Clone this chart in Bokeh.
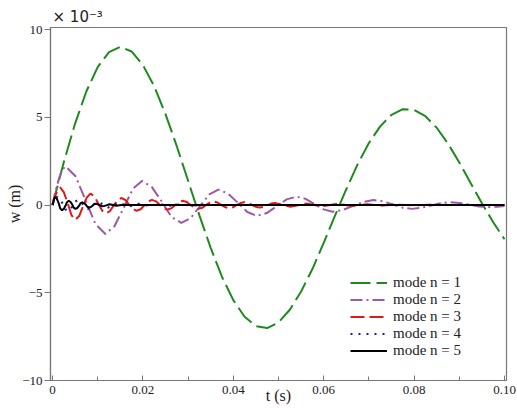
from bokeh.plotting import figure
from bokeh.models import Range1d, FixedTicker, Legend, LegendItem
from bokeh.embed import file_html
from bokeh.resources import INLINE

# ---- data (w in units of 1e-3 m) ----
t1 = [0, 0.0025, 0.005, 0.0075, 0.01, 0.0125, 0.015, 0.0175, 0.02, 0.0225,
      0.025, 0.0275, 0.03, 0.0325, 0.035, 0.0375, 0.04, 0.0425, 0.045, 0.0475,
      0.05, 0.0525, 0.055, 0.0575, 0.06, 0.0625, 0.065, 0.0675, 0.07, 0.0725,
      0.075, 0.0775, 0.08, 0.0825, 0.085, 0.0875, 0.09, 0.0925, 0.095, 0.0975, 0.1]
w1 = [0, 2.44, 4.64, 6.48, 7.86, 8.71, 9.01, 8.75, 7.98, 6.76,
      5.18, 3.35, 1.38, -0.59, -2.44, -4.10, -5.42, -6.37, -6.90, -7.01,
      -6.69, -5.97, -4.93, -3.65, -2.16, -0.61, 0.90, 2.32, 3.53, 4.48,
      5.14, 5.46, 5.42, 5.06, 4.40, 3.50, 2.42, 1.25, 0.10, -0.98, -1.95]

t2 = [0, 0.0007, 0.0015, 0.0022, 0.0029, 0.0051, 0.0073, 0.0095, 0.0117, 0.0137,
      0.0158, 0.0178, 0.0198, 0.0220, 0.0242, 0.0263, 0.0285, 0.0306, 0.0326, 0.0347,
      0.0367, 0.0388, 0.0410, 0.0431, 0.0452, 0.0474, 0.0496, 0.0518, 0.0540, 0.0560,
      0.0580, 0.0600, 0.0620, 0.0643, 0.0665, 0.0688, 0.0710, 0.0731, 0.0753, 0.0774,
      0.0795, 0.0816, 0.0838, 0.0859, 0.0880, 0.0901, 0.0923, 0.0944, 0.0965, 0.0983, 0.1]
w2 = [0, 0.84, 1.56, 2.03, 2.20, 1.64, 0.28, -1.09, -1.65, -1.21,
      -0.14, 0.93, 1.37, 1.02, 0.18, -0.67, -1.02, -0.74, -0.07, 0.60,
      0.88, 0.66, 0.13, -0.40, -0.62, -0.46, -0.07, 0.32, 0.48, 0.35,
      0.05, -0.25, -0.38, -0.28, -0.05, 0.18, 0.28, 0.21, 0.03, -0.15,
      -0.22, -0.16, -0.03, 0.10, 0.16, 0.12, 0.02, -0.08, -0.12, -0.10, -0.05]

t3 = [0, 0.0004, 0.0009, 0.0013, 0.0017, 0.0025, 0.0034, 0.0042, 0.0050, 0.0059,
      0.0067, 0.0076, 0.0084, 0.0093, 0.0101, 0.0110, 0.0118, 0.0127, 0.0135, 0.0144,
      0.0152, 0.0161, 0.0169, 0.0178, 0.0186, 0.0195, 0.0203, 0.0212, 0.0220, 0.0229,
      0.0237, 0.0246, 0.0254, 0.0263, 0.0271, 0.0280, 0.0288, 0.0297, 0.0305, 0.0314,
      0.0322, 0.0331, 0.0339, 0.0348, 0.0356, 0.0365, 0.0373, 0.0382, 0.0390, 0.0399,
      0.0407, 0.0416, 0.0424, 0.0433, 0.0441, 0.0450, 0.0458, 0.0467, 0.0475, 0.0484,
      0.0492, 0.0509, 0.0526, 0.0543, 0.0560, 0.0577, 0.0594, 0.0611, 0.0628, 0.0645,
      0.0662, 0.0679, 0.0696, 0.0713, 0.0730, 0.0747, 0.0764, 0.0798, 0.0832, 0.1]
w3 = [0, 0.38, 0.71, 0.92, 1.00, 0.73, 0.08, -0.58, -0.85, -0.63,
      -0.10, 0.43, 0.65, 0.49, 0.09, -0.32, -0.48, -0.35, -0.04, 0.27,
      0.40, 0.29, 0.04, -0.22, -0.33, -0.24, -0.02, 0.20, 0.29, 0.21,
      0.02, -0.18, -0.26, -0.19, -0.01, 0.17, 0.24, 0.17, 0.01, -0.15,
      -0.22, -0.16, -0.01, 0.14, 0.20, 0.14, 0.01, -0.12, -0.18, -0.13,
      -0.01, 0.11, 0.16, 0.12, 0.01, -0.10, -0.14, -0.10, -0.01, 0.08,
      0.12, 0.01, -0.10, -0.01, 0.08, 0.01, -0.07, -0.01, 0.06, 0.01,
      -0.05, 0.00, 0.04, 0.00, -0.03, 0.00, 0.02, -0.02, 0.01, 0.00]

t4 = [0, 0.0003, 0.0006, 0.0008, 0.0011, 0.0017, 0.0023, 0.0028, 0.0034, 0.0039,
      0.0045, 0.0050, 0.0056, 0.0062, 0.0068, 0.0073, 0.0079, 0.0085, 0.0090, 0.0096,
      0.0101, 0.0113, 0.0124, 0.0135, 0.0146, 0.0158, 0.0169, 0.0180, 0.0191, 0.0203,
      0.0214, 0.0225, 0.0236, 0.0248, 0.0259, 0.0281, 0.0304, 0.0326, 0.1]
w4 = [0, 0.17, 0.32, 0.42, 0.45, 0.33, 0.05, -0.23, -0.35, -0.26,
      -0.04, 0.19, 0.28, 0.21, 0.03, -0.15, -0.22, -0.16, -0.02, 0.12,
      0.18, 0.02, -0.14, -0.02, 0.11, 0.01, -0.09, -0.01, 0.07, 0.01,
      -0.05, 0.00, 0.04, 0.00, -0.03, 0.02, -0.01, 0.00, 0.00]

t5 = [0, 0.0002, 0.0003, 0.0005, 0.0006, 0.0010, 0.0014, 0.0017, 0.0021, 0.0025,
      0.0029, 0.0032, 0.0036, 0.0040, 0.0044, 0.0047, 0.0051, 0.0055, 0.0059, 0.0062,
      0.0066, 0.0070, 0.0074, 0.0077, 0.0081, 0.0085, 0.0089, 0.0092, 0.0096, 0.0104,
      0.0111, 0.0119, 0.0126, 0.0134, 0.0141, 0.0156, 0.0171, 0.1]
w5 = [0, 0.17, 0.32, 0.42, 0.45, 0.34, 0.08, -0.19, -0.30, -0.22,
      -0.03, 0.16, 0.24, 0.17, 0.01, -0.15, -0.22, -0.17, -0.04, 0.10,
      0.15, 0.11, 0.01, -0.10, -0.14, -0.11, -0.03, 0.05, 0.08, 0.00,
      -0.08, -0.02, 0.04, 0.00, -0.04, 0.02, 0.00, 0.00]

labels = ["mode n = 1", "mode n = 2", "mode n = 3", "mode n = 4", "mode n = 5"]

x_ticks = [0, 0.02, 0.04, 0.06, 0.08, 0.10]
x_tick_labels = ["0", "0.02", "0.04", "0.06", "0.08", "0.10"]
x_minor = [0.01, 0.03, 0.05, 0.07, 0.09]
y_ticks = [-10, -5, 0, 5, 10]
y_tick_labels = ["\u221210", "\u22125", "0", "5", "10"]

# ---- styles ----
colors = ["#1e8a1e", "#9a5aa6", "#dd1a1a", "#1a1ab4", "#000000"]
dashes = ["20 6", "12 4 2 4", "14 5", "2 6", "solid"]
widths = [2, 2, 2, 2.2, 2]

SERIF = "Liberation Serif"

p = figure(width=517, height=408, output_backend="svg", toolbar_location=None,
           x_range=Range1d(-0.000442, 0.100442), y_range=Range1d(-10, 10.115),
           min_border_left=50, min_border_right=11, min_border_top=27,
           min_border_bottom=28)
p.background_fill_color = "white"
p.border_fill_color = "white"
p.outline_line_color = "#777777"
p.outline_line_width = 1.2
p.xgrid.visible = False
p.ygrid.visible = False

p.title.text = "\u00d7 10\u207b\u00b3"
p.title.align = "left"
p.title.offset = 2
p.title.standoff = 4
p.title.text_font = "DejaVu Sans"
p.title.text_font_size = "15px"
p.title.text_font_style = "normal"
p.title.text_color = "#222222"

series = [(t1, w1), (t2, w2), (t3, w3), (t4, w4), (t5, w5)]
renderers = []
for (t, w), c, d, lw in zip(series, colors, dashes, widths):
    r = p.line(t, w, line_color=c, line_dash=d, line_width=lw)
    renderers.append(r)

# axes
xa = p.xaxis[0]
xa.ticker = FixedTicker(ticks=x_ticks, minor_ticks=x_minor)
xa.major_label_overrides = {v: s for v, s in zip(x_ticks, x_tick_labels)}
xa.major_tick_in = 5
xa.major_tick_out = 0
xa.minor_tick_in = 4
xa.minor_tick_out = 0
xa.major_label_standoff = 5
xa.axis_label = "t (s)"
xa.axis_label_standoff = -10

ya = p.yaxis[0]
ya.ticker = FixedTicker(ticks=y_ticks, minor_ticks=[])
ya.major_label_overrides = {v: s for v, s in zip(y_ticks, y_tick_labels)}
ya.major_tick_in = 0
ya.major_tick_out = 6
ya.major_label_standoff = 2
ya.axis_label = "w (m)"
ya.axis_label_standoff = -4

for ax in (xa, ya):
    ax.axis_line_color = "#777777"
    ax.axis_line_width = 1.2
    ax.major_tick_line_color = "#777777"
    ax.minor_tick_line_color = "#777777"
    ax.major_label_text_font = SERIF
    ax.major_label_text_font_size = "13px"
    ax.major_label_text_color = "#222222"
    ax.axis_label_text_font = SERIF
    ax.axis_label_text_font_size = "16px"
    ax.axis_label_text_font_style = "normal"
    ax.axis_label_text_color = "#222222"

# legend
legend = Legend(items=[LegendItem(label=l, renderers=[r]) for l, r in zip(labels, renderers)],
                location=(300, 21), orientation="vertical",
                glyph_width=37, glyph_height=17, label_height=17, label_standoff=6,
                spacing=0, padding=0, margin=0,
                border_line_alpha=0, background_fill_alpha=0,
                label_text_font=SERIF, label_text_font_size="15px",
                label_text_color="#222222")
p.add_layout(legend)

open("out.html", "w").write(file_html(p, INLINE))
